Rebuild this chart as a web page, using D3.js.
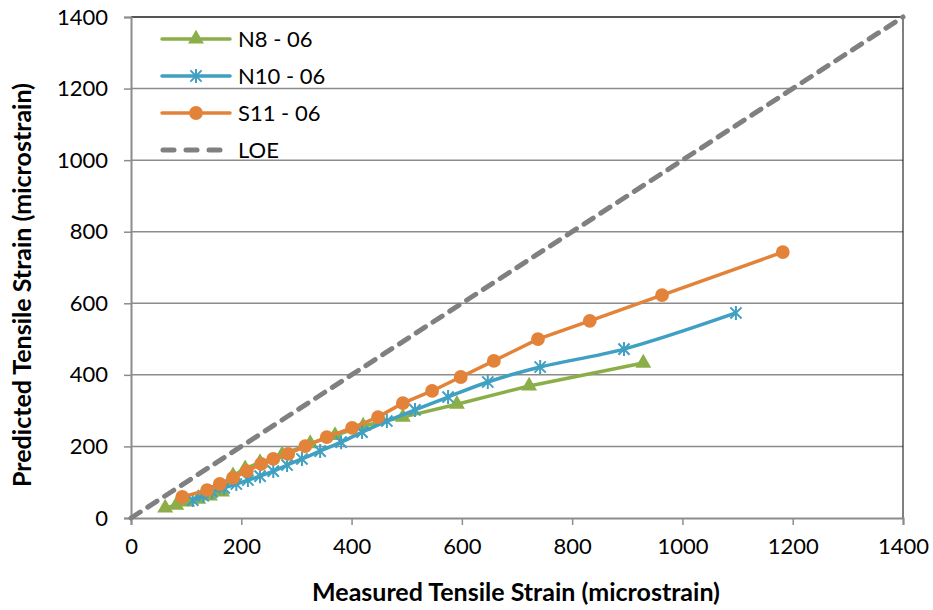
<!DOCTYPE html>
<html>
<head>
<meta charset="utf-8">
<script src="https://cdn.jsdelivr.net/npm/d3@7"></script>
<style>
  html, body { margin: 0; padding: 0; background: #fff; }
  svg { display: block; font-family: Lato, "Open Sans", sans-serif; }
</style>
</head>
<body>
<svg id="chart" width="933" height="610"></svg>
<script>
// Measured vs. predicted tensile strain (microstrain) for three sections
const n8Measured  = [62, 82, 102, 122, 143, 165, 185, 207, 234, 274, 325, 370, 421, 493, 591, 722, 929];
const n8Predicted = [28, 36, 45, 53, 62, 73, 118, 138, 155, 177, 208, 231, 257, 282, 318, 369, 433];

const n10Measured  = [112, 131, 147, 169, 191, 212, 234, 258, 283, 310, 343, 381, 419, 464, 515, 575, 647, 742, 894, 1097];
const n10Predicted = [50, 62, 73, 84, 95, 106, 117, 131, 148, 165, 187, 212, 240, 271, 302, 338, 380, 422, 472, 573];

const s11Measured  = [93, 138, 161, 185, 210, 236, 258, 285, 316, 355, 401, 448, 493, 546, 598, 658, 738, 832, 963, 1182];
const s11Predicted = [59, 78, 95, 112, 131, 151, 165, 179, 201, 226, 252, 282, 321, 355, 394, 439, 500, 551, 623, 743];

// Line of equality
const loeX = [0, 1400];
const loeY = [0, 1400];

const xTicks = [0, 200, 400, 600, 800, 1000, 1200, 1400];
const yTicks = [0, 200, 400, 600, 800, 1000, 1200, 1400];

const seriesNames = ["N8 - 06", "N10 - 06", "S11 - 06", "LOE"];
const colors = { n8: "#8CAE48", n10: "#3FA0C2", s11: "#E3833A", loe: "#808080" };

const svg = d3.select("#chart");
const plotLeft = 131, plotRight = 903, plotTop = 17, plotBottom = 518;

const x = d3.scaleLinear().domain([0, 1400]).range([plotLeft, plotRight]);
const y = d3.scaleLinear().domain([0, 1400]).range([plotBottom, plotTop]);

// Horizontal gridlines
svg.append("g")
  .selectAll("line")
  .data(yTicks.filter(t => t > 0))
  .join("line")
  .attr("x1", plotLeft).attr("x2", plotRight)
  .attr("y1", d => y(d)).attr("y2", d => y(d))
  .attr("stroke", "#8c8c8c").attr("stroke-width", 1.5);

// Plot border on top and right
svg.append("path")
  .attr("d", `M${plotLeft},${plotTop}H${plotRight}V${plotBottom}`)
  .attr("fill", "none").attr("stroke", "#000").attr("stroke-width", 1);

// Axes
const xAxis = svg.append("g")
  .attr("transform", `translate(0,${plotBottom})`)
  .call(d3.axisBottom(x).tickValues(xTicks).tickSize(7).tickPadding(13).tickFormat(d3.format("d")));
const yAxis = svg.append("g")
  .attr("transform", `translate(${plotLeft},0)`)
  .call(d3.axisLeft(y).tickValues(yTicks).tickSize(7).tickPadding(16).tickFormat(d3.format("d")));

[xAxis, yAxis].forEach(g => {
  g.select(".domain").attr("stroke", "#8c8c8c").attr("stroke-width", 2);
  g.selectAll(".tick line").attr("stroke", "#8c8c8c").attr("stroke-width", 1.5);
  g.selectAll(".tick text").attr("fill", "#000").style("font-size", "22px").style("font-family", "Lato, sans-serif");
});
xAxis.selectAll(".tick text").attr("dy", "0.72em");

// Axis titles
svg.append("text")
  .attr("x", 516).attr("y", 601)
  .attr("text-anchor", "middle")
  .style("font-size", "25px").style("font-weight", "bold")
  .text("Measured Tensile Strain (microstrain)");
svg.append("text")
  .attr("transform", `translate(31,285) rotate(-90)`)
  .attr("text-anchor", "middle")
  .style("font-size", "25px").style("font-weight", "bold")
  .text("Predicted Tensile Strain (microstrain)");

// Marker shapes
const triangle = d3.symbol(d3.symbolTriangle, 110)();
const circle = d3.symbol(d3.symbolCircle, 150)();
const star = (() => {
  const r = 7, d = r * 0.8;
  return `M0,${-r}L0,${r}M${-d},${-d}L${d},${d}M${-d},${d}L${d},${-d}`;
})();

const line = d3.line().x(d => x(d[0])).y(d => y(d[1]));

// LOE dashed line
svg.append("path")
  .datum(d3.zip(loeX, loeY))
  .attr("d", line)
  .attr("fill", "none").attr("stroke", colors.loe)
  .attr("stroke-width", 5).attr("stroke-dasharray", "11,9").attr("stroke-linecap", "round");

function drawSeries(xs, ys, color, marker, curve, isStroke) {
  const pts = d3.zip(xs, ys);
  svg.append("path")
    .datum(pts)
    .attr("d", d3.line().x(d => x(d[0])).y(d => y(d[1])).curve(curve))
    .attr("fill", "none").attr("stroke", color).attr("stroke-width", 3.5)
    .attr("stroke-linejoin", "round");
  const m = svg.append("g").selectAll("path").data(pts).join("path")
    .attr("transform", d => `translate(${x(d[0])},${y(d[1])})`)
    .attr("d", marker);
  if (isStroke) m.attr("fill", "none").attr("stroke", color).attr("stroke-width", 2);
  else m.attr("fill", color);
}

drawSeries(n8Measured, n8Predicted, colors.n8, triangle, d3.curveLinear, false);
drawSeries(n10Measured, n10Predicted, colors.n10, star, d3.curveCatmullRom.alpha(0.5), true);
drawSeries(s11Measured, s11Predicted, colors.s11, circle, d3.curveLinear, false);

// Legend
const legendY = [39, 76, 113, 150];
const legend = svg.append("g");
const legendItems = [
  { name: seriesNames[0], color: colors.n8, marker: triangle, stroke: false },
  { name: seriesNames[1], color: colors.n10, marker: star, stroke: true },
  { name: seriesNames[2], color: colors.s11, marker: circle, stroke: false },
  { name: seriesNames[3], color: colors.loe, marker: null, dashed: true }
];
legendItems.forEach((it, i) => {
  const g = legend.append("g").attr("transform", `translate(0,${legendY[i]})`);
  const ln = g.append("line").attr("x1", 162).attr("x2", 230).attr("y1", 0).attr("y2", 0)
    .attr("stroke", it.color).attr("stroke-width", it.dashed ? 5 : 3.5).attr("stroke-linecap", "round");
  if (it.dashed) ln.attr("stroke-dasharray", "11,12").attr("x1", 163).attr("x2", 226);
  if (it.marker) {
    const mk = g.append("path").attr("transform", "translate(196,0)").attr("d", it.marker);
    if (it.stroke) mk.attr("fill", "none").attr("stroke", it.color).attr("stroke-width", 2);
    else mk.attr("fill", it.color);
  }
  g.append("text").attr("x", 238).attr("y", 0).attr("dy", "0.36em")
    .style("font-size", "22px").text(it.name);
});
</script>
</body>
</html>
